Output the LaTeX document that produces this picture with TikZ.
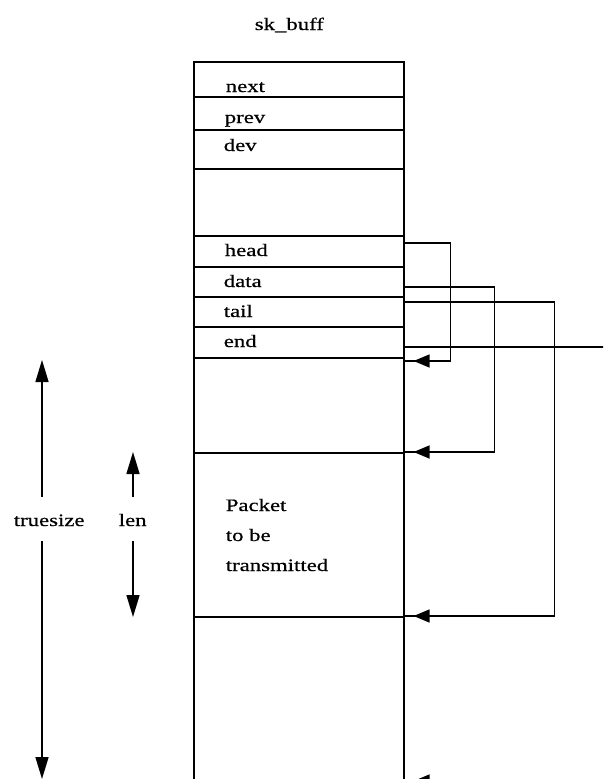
\documentclass[tikz,border=0pt]{standalone}
\usepackage{fontspec}
\setmainfont{Liberation Serif}[FakeStretch=1.3,FakeBold=0.6]
\usetikzlibrary{arrows.meta,decorations.markings}
\tikzset{
  row/.style={draw, rectangle, minimum width=210pt, inner sep=0pt, anchor=north west},
  txt/.style={inner sep=0pt, anchor=base west, font=\fontsize{17.5}{21}\selectfont},
  conn/.style={draw, postaction={decorate},
    decoration={markings, mark=at position -9pt with {\arrow{Triangle[length=16pt,width=13pt]}}}},
  varrow/.style={draw, -{Triangle[length=22pt,width=13pt]}}
}
\begin{document}
\begin{tikzpicture}[x=1pt,y=-1pt,line width=1.6pt]
\useasboundingbox (0,0) rectangle (603,779);
\clip (0,0) rectangle (603,779);
% title
\node[txt] (title) at (254,30) {sk\_buff};
% rows of the structure
\node[row, minimum height=35pt]  (next)   at (193,61)  {};
\node[row, minimum height=33pt]  (prev)   at (193,96)  {};
\node[row, minimum height=39pt]  (dev)    at (193,129) {};
\node[row, minimum height=67pt]  (blank)  at (193,168) {};
\node[row, minimum height=31pt]  (head)   at (193,235) {};
\node[row, minimum height=30pt]  (data)   at (193,266) {};
\node[row, minimum height=30pt]  (tail)   at (193,296) {};
\node[row, minimum height=31pt]  (end)    at (193,326) {};
\node[row, minimum height=95pt]  (gap)    at (193,357) {};
\node[row, minimum height=164pt] (packet) at (193,452) {};
\node[row, minimum height=200pt] (rest)   at (193,616) {};
% field labels
\node[txt] (tnext) at (225,92)  {next};
\node[txt] (tprev) at (224,123) {prev};
\node[txt] (tdev)  at (223,151) {dev};
\node[txt] (thead) at (224,256) {head};
\node[txt] (tdata) at (223,287) {data};
\node[txt] (ttail) at (223,317) {tail};
\node[txt] (tend)  at (223,347) {end};
\node[txt] (tp1) at (225,511) {Packet};
\node[txt] (tp2) at (225,541) {to be};
\node[txt] (tp3) at (225,571) {transmitted};
% pointers
\draw[conn] ([yshift=8.5pt]head.east) -- ++(46,0) |- ([yshift=-4pt]gap.north east);
\draw[conn] ([yshift=-5pt]data.east) -- ++(90,0) |- (packet.north east);
\draw[conn] ([yshift=10pt]tail.east) -- ++(150,0) |- (rest.north east);
\draw[conn] ([yshift=-4.5pt]end.east) -- ++(230,0) |- ([yshift=-165pt]rest.north east);
% size labels
\node[txt] (ts)  at (13,526)  {truesize};
\node[txt] (len) at (118,526) {len};
\coordinate (tsA) at (42,497);
\coordinate (tsT) at (42,360);
\coordinate (tsB) at (42,541);
\coordinate (tsD) at (42,779);
\coordinate (lnA) at (133,497);
\coordinate (lnT) at (133,452);
\coordinate (lnB) at (133,541);
\coordinate (lnD) at (133,617);
\draw[varrow] (tsA) -- (tsT);
\draw[varrow] (tsB) -- (tsD);
\draw[varrow] (lnA) -- (lnT);
\draw[varrow] (lnB) -- (lnD);
\end{tikzpicture}
\end{document}
